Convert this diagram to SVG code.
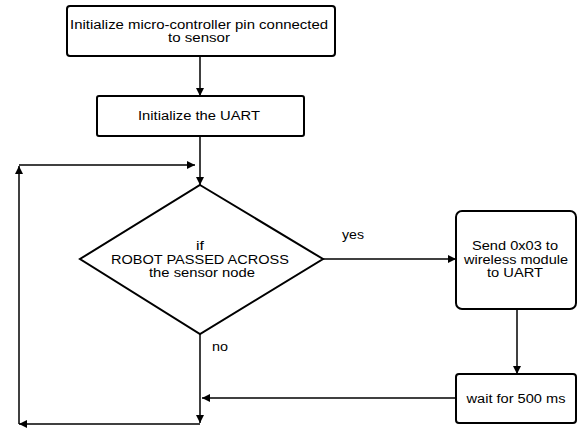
<svg xmlns="http://www.w3.org/2000/svg" width="577" height="428" viewBox="0 0 577 428">
<style>
.box{fill:#fff;stroke:#000;stroke-width:2}
.ln{fill:none;stroke:#000;stroke-width:1.5}
text{font-family:"Liberation Sans",Arial,sans-serif;font-size:12.5px;fill:#000}
.c{text-anchor:middle}
</style>
<defs>
<marker id="ah" viewBox="0 0 10 10" refX="10" refY="5" markerWidth="8" markerHeight="8" markerUnits="userSpaceOnUse" orient="auto">
<path d="M0,0 L10,5 L0,10 Z" fill="#000"/>
</marker>
</defs>
<g id="connectors">
<line class="ln" x1="200" y1="56" x2="200" y2="96" marker-end="url(#ah)"/>
<line class="ln" x1="200" y1="136" x2="200" y2="185" marker-end="url(#ah)"/>
<line class="ln" x1="323" y1="259" x2="456" y2="259" marker-end="url(#ah)"/>
<line class="ln" x1="517" y1="309" x2="517" y2="374" marker-end="url(#ah)"/>
<line class="ln" x1="456" y1="398" x2="202" y2="398" marker-end="url(#ah)"/>
<line class="ln" x1="200" y1="334" x2="200" y2="423" marker-end="url(#ah)"/>
<line class="ln" x1="200" y1="424" x2="19" y2="424" marker-end="url(#ah)"/>
<line class="ln" x1="19" y1="424" x2="19" y2="166" marker-end="url(#ah)"/>
<line class="ln" x1="19" y1="165" x2="195" y2="165" marker-end="url(#ah)"/>
<text x="353" y="239" class="c" textLength="22" lengthAdjust="spacingAndGlyphs">yes</text>
<text x="220" y="351" class="c" textLength="16" lengthAdjust="spacingAndGlyphs">no</text>
</g>
<g id="n1">
<rect class="box" x="67" y="6" width="268" height="50" rx="3"/>
<text x="199" y="29" class="c" textLength="258" lengthAdjust="spacingAndGlyphs">Initialize micro-controller pin connected</text>
<text x="199" y="42" class="c" textLength="62" lengthAdjust="spacingAndGlyphs">to sensor</text>
</g>
<g id="n2">
<rect class="box" x="97" y="96" width="207" height="40" rx="2"/>
<text x="199" y="120" class="c" textLength="122" lengthAdjust="spacingAndGlyphs">Initialize the UART</text>
</g>
<g id="n3">
<polygon class="box" points="200,185 323,259 200,334 80,259"/>
<text x="200" y="250" class="c" textLength="8" lengthAdjust="spacingAndGlyphs">if</text>
<text x="200" y="264" class="c" textLength="178" lengthAdjust="spacingAndGlyphs">ROBOT PASSED ACROSS</text>
<text x="202" y="277" class="c" textLength="106" lengthAdjust="spacingAndGlyphs">the sensor node</text>
</g>
<g id="n4">
<rect class="box" x="456" y="211" width="120" height="98" rx="6"/>
<text x="515" y="250" class="c" textLength="86" lengthAdjust="spacingAndGlyphs">Send 0x03 to</text>
<text x="516" y="264" class="c" textLength="104" lengthAdjust="spacingAndGlyphs">wireless module</text>
<text x="515" y="277" class="c" textLength="56" lengthAdjust="spacingAndGlyphs">to UART</text>
</g>
<g id="n5">
<rect class="box" x="456" y="374" width="120" height="49" rx="3"/>
<text x="516" y="403" class="c" textLength="99" lengthAdjust="spacingAndGlyphs">wait for 500 ms</text>
</g>
</svg>
